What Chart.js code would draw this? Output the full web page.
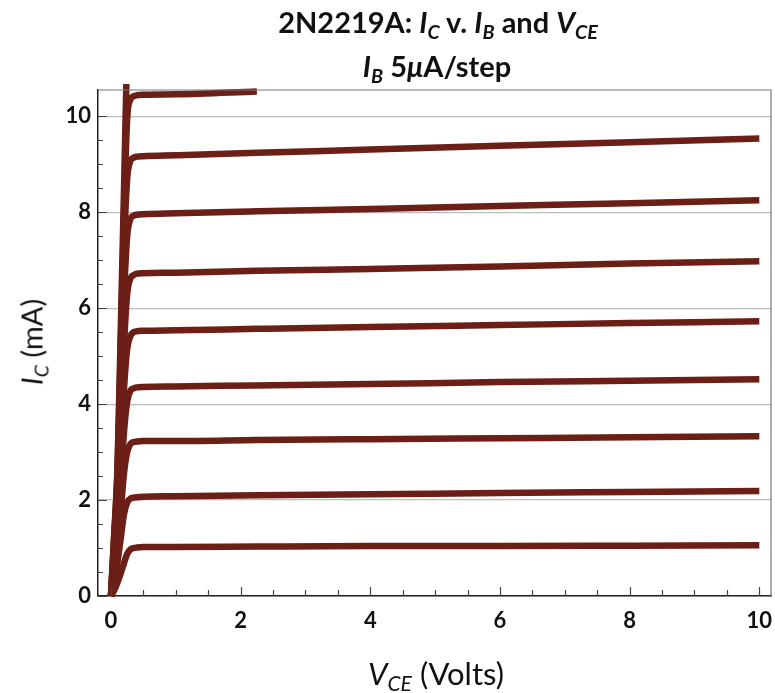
<!DOCTYPE html>
<html>
<head>
<meta charset="utf-8">
<script src="https://cdn.jsdelivr.net/npm/chart.js@4/dist/chart.umd.min.js"></script>
<style>
  body { margin: 0; background: #fff; }
  #wrap { position: relative; width: 775px; height: 693px; font-family: Lato, "Open Sans", sans-serif; color: #111; }
  canvas { position: absolute; left: 0; top: 0; }
  .lbl { position: absolute; white-space: nowrap; transform: translate(-50%, -50%); }
  .lbl sub { font-size: 68%; vertical-align: baseline; position: relative; top: 0.3em; }
  .title { font-weight: bold; font-size: 29px; }
  .axis { font-size: 31px; }
  #ylab { font-size: 29px; transform: translate(-50%, -50%) rotate(-90deg); }
</style>
</head>
<body>
<div id="wrap">
  <canvas id="chart" width="775" height="693"></canvas>
  <div class="lbl title" style="left:438px; top:21px;">2N2219A: <i>I<sub>C</sub></i> v. <i>I<sub>B</sub></i> and <i>V<sub>CE</sub></i></div>
  <div class="lbl title" style="left:437px; top:65px;"><i>I<sub>B</sub></i> 5<i>μ</i>A/step</div>
  <div class="lbl axis" style="left:436px; top:673px;"><i>V<sub>CE</sub></i> (Volts)</div>
  <div class="lbl axis" id="ylab" style="left:31px; top:342px;"><i>I<sub>C</sub></i> (mA)</div>
</div>
<script>
// collector-emitter voltage (V) sample points
const vce = [0, 0.05, 0.1, 0.15, 0.2, 0.25, 0.3, 0.35, 0.4, 0.5, 1, 2.25, 4, 6, 8, 10];

// collector current (mA), one curve per base-current step
const ic1 = [0, 0.12, 0.28, 0.47, 0.68, 0.88, 0.97, 1.0, 1.01, 1.02, 1.02, 1.03, 1.04, 1.04, 1.05, 1.06];
const ic2 = [0, 0.3, 0.7, 1.2, 1.7, 1.95, 2.03, 2.05, 2.06, 2.07, 2.08, 2.1, 2.12, 2.15, 2.17, 2.19];
const ic3 = [0, 0.45, 1.0, 1.75, 2.55, 3.0, 3.17, 3.21, 3.22, 3.23, 3.23, 3.25, 3.27, 3.29, 3.31, 3.33];
const ic4 = [0, 0.6, 1.3, 2.3, 3.4, 4.05, 4.28, 4.33, 4.35, 4.36, 4.37, 4.39, 4.42, 4.46, 4.49, 4.52];
const ic5 = [0, 0.75, 1.65, 2.9, 4.3, 5.15, 5.42, 5.5, 5.52, 5.53, 5.54, 5.57, 5.61, 5.65, 5.69, 5.73];
const ic6 = [0, 0.9, 1.95, 3.5, 5.2, 6.3, 6.62, 6.69, 6.72, 6.73, 6.74, 6.78, 6.82, 6.87, 6.93, 6.98];
const ic7 = [0, 1.0, 2.2, 4.1, 6.2, 7.5, 7.86, 7.93, 7.95, 7.96, 7.98, 8.02, 8.07, 8.13, 8.19, 8.25];
const ic8 = [0, 1.15, 2.45, 4.7, 7.2, 8.7, 9.07, 9.14, 9.16, 9.17, 9.19, 9.24, 9.31, 9.39, 9.46, 9.54];
const ic9 = [0, 1.25, 2.55, 5.1, 7.9, 9.95, 10.35, 10.42, 10.44, 10.45, 10.46, 10.52, null, null, null, null];
const ic10 = [0, 1.3, 2.65, 5.5, 8.4, 11.4, 13.0, null, null, null, null, null, null, null, null, null];

const curves = [ic1, ic2, ic3, ic4, ic5, ic6, ic7, ic8, ic9, ic10];

const xTicks = [0, 2, 4, 6, 8, 10];
const yTicks = [0, 2, 4, 6, 8, 10];

const lineColor = '#6b1f16';

// inward Mathematica-style ticks and the grey frame
const framePlugin = {
  id: 'frame',
  afterDraw(chart) {
    const { ctx, chartArea: a, scales: { x, y } } = chart;
    ctx.save();
    ctx.strokeStyle = '#777';
    ctx.lineWidth = 1.2;
    ctx.beginPath();
    ctx.moveTo(a.left, a.top);
    ctx.lineTo(a.right, a.top);
    ctx.lineTo(a.right, a.bottom);
    ctx.stroke();

    ctx.strokeStyle = '#444';
    ctx.lineWidth = 1.2;
    ctx.beginPath();
    for (let v = 0; v <= 10.01; v += 0.5) {
      const major = Math.abs(v % 2) < 1e-6;
      const px = Math.round(x.getPixelForValue(v)) + 0.5;
      ctx.moveTo(px, a.bottom);
      ctx.lineTo(px, a.bottom - (major ? 9 : 6));
      const py = Math.round(y.getPixelForValue(v)) + 0.5;
      ctx.moveTo(a.left, py);
      ctx.lineTo(a.left + (major ? 9 : 5), py);
    }
    ctx.stroke();
    ctx.restore();
  }
};

new Chart(document.getElementById('chart'), {
  type: 'line',
  data: {
    datasets: curves.map((c, i) => ({
      label: 'IB step ' + (i + 1),
      data: vce.map((v, j) => ({ x: v, y: c[j] })),
      borderColor: lineColor,
      borderWidth: 6.5,
      pointRadius: 0,
      cubicInterpolationMode: 'monotone',
      spanGaps: false,
      clip: 6
    }))
  },
  options: {
    responsive: false,
    animation: false,
    layout: { padding: { top: 90, right: 4, left: 0, bottom: 0 } },
    plugins: { legend: { display: false }, tooltip: { enabled: false }, title: { display: false } },
    scales: {
      x: {
        type: 'linear',
        min: -0.2,
        max: 10.18,
        afterBuildTicks: s => { s.ticks = xTicks.map(v => ({ value: v })); },
        afterFit: s => { s.height = 97; s.paddingLeft = 0; s.paddingRight = 0; },
        grid: { display: false, drawTicks: false },
        border: { display: true, color: '#222', width: 1.5 },
        ticks: { padding: 12, color: '#111', font: { family: 'Lato', weight: 'bold', size: 22 } }
      },
      y: {
        type: 'linear',
        min: 0,
        max: 10.55,
        afterBuildTicks: s => { s.ticks = yTicks.map(v => ({ value: v })); },
        afterFit: s => { s.width = 98; s.paddingTop = 0; s.paddingBottom = 0; },
        grid: { display: true, color: '#bdbdbd', lineWidth: 1.2, drawTicks: false },
        border: { display: true, color: '#222', width: 1.5 },
        ticks: { padding: 7, color: '#111', font: { family: 'Lato', weight: 'bold', size: 22 } }
      }
    }
  },
  plugins: [framePlugin]
});
</script>
</body>
</html>
